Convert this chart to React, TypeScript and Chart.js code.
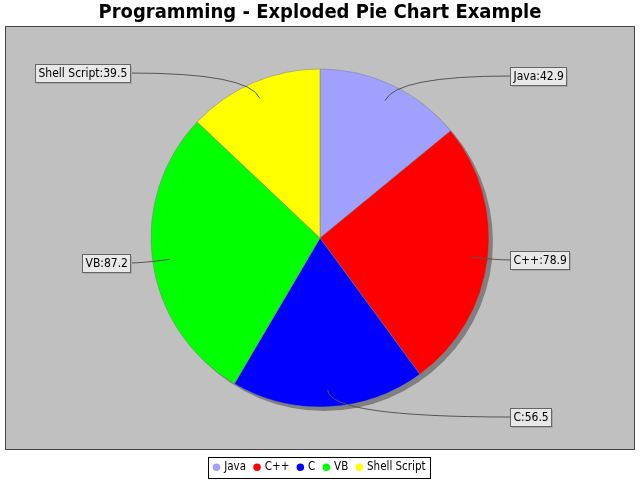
import { useEffect, useRef } from 'react';
import { Chart, registerables } from 'chart.js';

Chart.register(...registerables);

const categories = ['Java', 'C++', 'C', 'VB', 'Shell Script'];
const values = [42.9, 78.9, 56.5, 87.2, 39.5];
const sliceColors = ['#A0A0FF', '#FF0000', '#0000FF', '#00FF00', '#FFFF00'];
const titleText = 'Programming - Exploded Pie Chart Example';

const FONT = '"DejaVu Sans Condensed", "DejaVu Sans", sans-serif';

const plotBackground = {
  id: 'plotBackground',
  beforeDraw(chart: any) {
    const { ctx, chartArea: a } = chart;
    ctx.save();
    ctx.fillStyle = '#C0C0C0';
    ctx.fillRect(a.left, a.top, a.right - a.left, a.bottom - a.top);
    ctx.strokeStyle = '#444444';
    ctx.lineWidth = 1;
    ctx.strokeRect(a.left + 0.5, a.top + 0.5, a.right - a.left - 1, a.bottom - a.top - 1);
    ctx.restore();
  },
};

const pieShadow = {
  id: 'pieShadow',
  beforeDatasetsDraw(chart: any) {
    const meta = chart.getDatasetMeta(0);
    if (!meta.data.length) return;
    const { x, y, outerRadius } = meta.data[0].getProps(['x', 'y', 'outerRadius'], true);
    const ctx = chart.ctx;
    ctx.save();
    ctx.fillStyle = '#808080';
    ctx.beginPath();
    ctx.arc(x + 4, y + 4, outerRadius, 0, Math.PI * 2);
    ctx.fill();
    ctx.restore();
  },
};

const pieLabels = {
  id: 'pieLabels',
  afterDatasetsDraw(chart: any) {
    const ctx = chart.ctx;
    const meta = chart.getDatasetMeta(0);
    ctx.save();
    ctx.font = `12px ${FONT}`;
    ctx.textBaseline = 'middle';
    ctx.textAlign = 'left';
    meta.data.forEach((el: any, i: number) => {
      const { x, y, startAngle, endAngle, outerRadius: r } = el.getProps(
        ['x', 'y', 'startAngle', 'endAngle', 'outerRadius'],
        true
      );
      const mid = (startAngle + endAngle) / 2;
      const c = Math.cos(mid);
      const s = Math.sin(mid);
      const sx = x + c * r * 0.9;
      const sy = y + s * r * 0.9;
      const cx = x + c * r * 1.06;
      const ly = Math.round(y + s * r * 1.06);
      const right = c >= 0;
      const text = `${categories[i]}:${values[i]}`;
      const tw = ctx.measureText(text).width;
      const padX = 3;
      const h = 18;
      const bw = Math.round(tw + 2 * padX);
      const bx = Math.round(right ? x + r * 1.125 : x - r * 1.125 - bw);
      const edgeX = right ? bx : bx + bw;
      const by = ly - h / 2;

      ctx.strokeStyle = '#555555';
      ctx.lineWidth = 1;
      ctx.beginPath();
      ctx.moveTo(sx, sy);
      ctx.quadraticCurveTo(cx, ly, edgeX, ly);
      ctx.stroke();

      ctx.fillStyle = '#A8A8A8';
      ctx.fillRect(bx + 2, by + 2, bw, h);
      ctx.fillStyle = '#E8E8E8';
      ctx.fillRect(bx, by, bw, h);
      ctx.strokeStyle = '#666666';
      ctx.strokeRect(bx + 0.5, by + 0.5, bw, h);
      ctx.fillStyle = '#000000';
      ctx.fillText(text, bx + padX + 0.5, ly + 1);
    });
    ctx.restore();
  },
};

const legendBorder = {
  id: 'legendBorder',
  afterDraw(chart: any) {
    const lg = chart.legend;
    const boxes = lg && lg.legendHitBoxes;
    if (!boxes || !boxes.length) return;
    let minL = Infinity;
    let maxR = -Infinity;
    let cy = 0;
    boxes.forEach((b: any) => {
      minL = Math.min(minL, b.left);
      maxR = Math.max(maxR, b.left + b.width);
      cy = b.top + b.height / 2;
    });
    const ctx = chart.ctx;
    ctx.save();
    ctx.strokeStyle = '#000000';
    ctx.lineWidth = 1;
    const left = Math.round(minL - 6.75);
    const right = Math.round(maxR + 4.5);
    const top = Math.round(cy - 10.5);
    ctx.strokeRect(left + 0.5, top + 0.5, right - left, 21);
    ctx.restore();
  },
};

export default function App() {
  const canvasRef = useRef<HTMLCanvasElement | null>(null);

  useEffect(() => {
    if (!canvasRef.current) return;
    const chart = new Chart(canvasRef.current, {
      type: 'pie',
      data: {
        labels: categories,
        datasets: [
          {
            data: values,
            backgroundColor: sliceColors,
            borderColor: '#808080',
            borderWidth: 0.5,
            radius: 169,
            hoverOffset: 0,
          } as any,
        ],
      },
      options: {
        responsive: false,
        animation: false,
        events: [],
        layout: { padding: { left: 5, right: 5, top: 0, bottom: -3 } },
        plugins: {
          tooltip: { enabled: false },
          title: {
            display: true,
            text: titleText,
            color: '#000000',
            font: { family: FONT, size: 20, weight: 'bold', lineHeight: 1.2 },
            padding: { top: 1, bottom: 1 },
          },
          legend: {
            display: true,
            position: 'bottom',
            title: { display: true, text: '', font: { size: 2, lineHeight: 1.25 }, padding: 0 },
            labels: {
              color: '#000000',
              font: { family: FONT, size: 11.5 },
              usePointStyle: true,
              pointStyle: 'circle',
              boxWidth: 4,
              boxHeight: 5.3,
              padding: 9,
              generateLabels: (ch: any) => {
                const base = (Chart as any).overrides.pie.plugins.legend.labels.generateLabels(ch);
                return base.map((it: any) => ({ ...it, strokeStyle: it.fillStyle, lineWidth: 0 }));
              },
            },
          },
        },
      } as any,
      plugins: [plotBackground, pieShadow, pieLabels, legendBorder],
    });
    return () => chart.destroy();
  }, []);

  return (
    <div style={{ position: 'absolute', left: 0, top: 0, width: 640, height: 480, background: '#ffffff' }}>
      <canvas ref={canvasRef} width={640} height={480} />
    </div>
  );
}
